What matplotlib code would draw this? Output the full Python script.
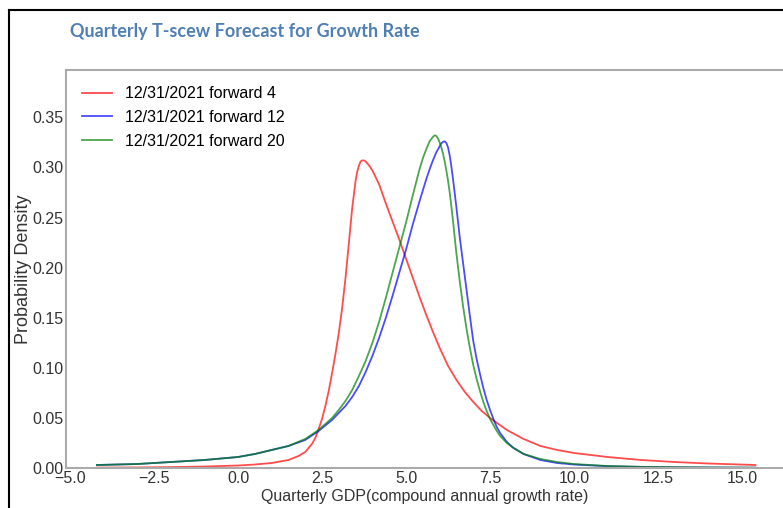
import matplotlib
matplotlib.use("Agg")
import matplotlib.pyplot as plt
from matplotlib.lines import Line2D

# values
x_red = [-4.2, -3.0, -2.0, -1.0, 0.0, 0.5, 1.0, 1.5, 1.8, 2.0, 2.2, 2.3, 2.4, 2.5,
         2.6, 2.7, 2.8, 2.9, 3.0, 3.1, 3.2, 3.3, 3.4, 3.5, 3.55, 3.6, 3.65, 3.7,
         3.75, 3.8, 3.9, 4.0, 4.2, 4.4, 4.6, 4.8, 5.0, 5.2, 5.4, 5.6, 5.8, 6.0,
         6.25, 6.5, 6.75, 7.0, 7.25, 7.5, 8.0, 8.5, 9.0, 9.5, 10.0, 11.0, 12.0,
         13.0, 14.0, 15.4]
y_red = [0.0004, 0.0006, 0.0009, 0.0015, 0.0025, 0.0035, 0.005, 0.008, 0.012,
         0.016, 0.024, 0.030, 0.039, 0.049, 0.062, 0.077, 0.095, 0.114, 0.135,
         0.16, 0.19, 0.225, 0.26, 0.287, 0.296, 0.302, 0.306, 0.307, 0.307,
         0.306, 0.302, 0.297, 0.283, 0.264, 0.246, 0.228, 0.209, 0.19, 0.171,
         0.153, 0.136, 0.12, 0.102, 0.088, 0.076, 0.066, 0.057, 0.05, 0.038,
         0.029, 0.022, 0.018, 0.015, 0.011, 0.008, 0.006, 0.0045, 0.003]

x_blue = [-4.2, -3.0, -2.0, -1.0, 0.0, 0.5, 1.0, 1.5, 2.0, 2.4, 2.8, 3.0, 3.2,
          3.4, 3.6, 3.8, 4.0, 4.2, 4.4, 4.6, 4.8, 5.0, 5.2, 5.4, 5.6, 5.7, 5.8,
          5.9, 6.0, 6.05, 6.1, 6.15, 6.2, 6.25, 6.3, 6.35, 6.4, 6.45, 6.5, 6.55,
          6.6, 6.7, 6.8, 6.9, 7.0, 7.1, 7.2, 7.3, 7.4, 7.5, 7.6, 7.7, 7.8, 8.0,
          8.2, 8.5, 9.0, 9.5, 10.0, 11.0, 12.0, 13.0, 14.0, 15.4]
y_blue = [0.003, 0.004, 0.006, 0.008, 0.011, 0.014, 0.018, 0.022, 0.028, 0.037,
          0.048, 0.055, 0.062, 0.071, 0.082, 0.096, 0.112, 0.13, 0.15, 0.172,
          0.195, 0.218, 0.243, 0.266, 0.288, 0.298, 0.307, 0.315, 0.321, 0.324,
          0.3255, 0.326, 0.3245, 0.32, 0.312, 0.301, 0.288, 0.274, 0.26, 0.245,
          0.23, 0.204, 0.178, 0.152, 0.127, 0.109, 0.094, 0.08, 0.068, 0.058,
          0.049, 0.041, 0.035, 0.026, 0.02, 0.014, 0.008, 0.005, 0.0035, 0.0018,
          0.0011, 0.0007, 0.0005, 0.0003]

x_green = [-4.2, -3.0, -2.0, -1.0, 0.0, 0.5, 1.0, 1.5, 2.0, 2.4, 2.8, 3.0, 3.2,
           3.4, 3.6, 3.8, 4.0, 4.2, 4.4, 4.6, 4.8, 5.0, 5.2, 5.4, 5.5, 5.6, 5.7,
           5.8, 5.85, 5.9, 5.95, 6.0, 6.05, 6.1, 6.15, 6.2, 6.25, 6.3, 6.35, 6.4,
           6.5, 6.6, 6.7, 6.8, 6.9, 7.0, 7.1, 7.2, 7.3, 7.4, 7.5, 7.6, 7.7, 7.8,
           8.0, 8.2, 8.5, 9.0, 9.5, 10.0, 11.0, 12.0, 13.0, 14.0, 15.4]
y_green = [0.003, 0.004, 0.006, 0.008, 0.011, 0.014, 0.018, 0.022, 0.029, 0.038,
           0.05, 0.058, 0.067, 0.078, 0.092, 0.107, 0.125, 0.146, 0.17, 0.195,
           0.22, 0.245, 0.272, 0.298, 0.309, 0.318, 0.326, 0.3305, 0.332, 0.3315,
           0.329, 0.325, 0.32, 0.314, 0.306, 0.297, 0.287, 0.275, 0.261, 0.246,
           0.214, 0.186, 0.161, 0.139, 0.12, 0.103, 0.089, 0.077, 0.066, 0.057,
           0.049, 0.043, 0.037, 0.032, 0.025, 0.02, 0.014, 0.009, 0.006, 0.004,
           0.002, 0.0012, 0.0008, 0.0006, 0.0004]

labels = ["12/31/2021 forward 4", "12/31/2021 forward 12", "12/31/2021 forward 20"]
title = "Quarterly T-scew Forecast for Growth Rate"

plt.rcParams['font.family'] = ['Liberation Sans', 'DejaVu Sans']

fig = plt.figure(figsize=(7.83, 5.08), dpi=100)
ax = fig.add_axes([0.0843, 0.0787, 0.9157, 0.783])

ax.plot(x_red, y_red, color='red', alpha=0.7, lw=1.3, label=labels[0])
ax.plot(x_blue, y_blue, color='blue', alpha=0.7, lw=1.3, label=labels[1])
ax.plot(x_green, y_green, color='green', alpha=0.7, lw=1.3, label=labels[2])

ax.set_xlim(-5.12, 16.22)
ax.set_ylim(0, 0.397)
ax.set_xticks([-5.0, -2.5, 0.0, 2.5, 5.0, 7.5, 10.0, 12.5, 15.0])
ax.set_xticklabels(["−5.0", "−2.5", "0.0", "2.5", "5.0", "7.5", "10.0", "12.5", "15.0"])
ax.set_yticks([0.0, 0.05, 0.10, 0.15, 0.20, 0.25, 0.30, 0.35])
ax.yaxis.set_major_formatter(matplotlib.ticker.FormatStrFormatter('%.2f'))
ax.tick_params(length=0, pad=2, labelsize=11.5, colors='#333333')

for side in ['left', 'bottom', 'top']:
    ax.spines[side].set_color('#aaaaaa')
    ax.spines[side].set_linewidth(1.5)
ax.spines['right'].set_visible(False)

ax.set_xlabel("Quarterly GDP(compound annual growth rate)", fontsize=11.5,
              color='#333333', labelpad=2)
ax.set_ylabel("Probability Density", fontsize=13, color='#333333', labelpad=0)

ax.legend(loc='upper left', frameon=False, fontsize=11.5, handlelength=1.9,
          labelspacing=0.55, borderaxespad=0.6, handletextpad=0.8)

fig.text(70 / 783, 1 - 32 / 508, title, fontsize=13, fontweight='bold',
         color='#4f7fb3', va='center', ha='left', family=['Lato', 'DejaVu Sans'])

# outer frame of the screenshot
fig.add_artist(Line2D([9 / 783, 9 / 783], [0, 1 - 10 / 508], color='black', lw=1.5))
fig.add_artist(Line2D([9 / 783, 1], [1 - 10 / 508, 1 - 10 / 508], color='black', lw=1.5))

fig.savefig("out.png", dpi=100)
